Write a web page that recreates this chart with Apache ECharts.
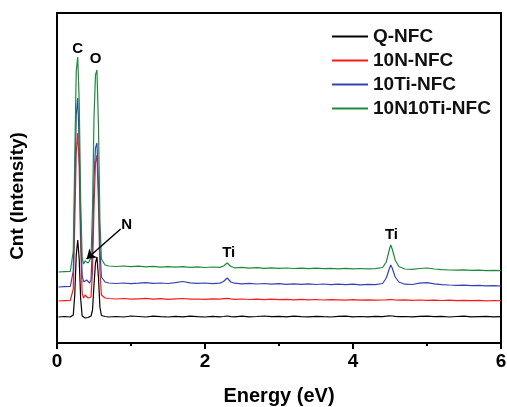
<!DOCTYPE html>
<html>
<head>
<meta charset="utf-8">
<script src="https://cdn.jsdelivr.net/npm/echarts@6/dist/echarts.min.js"></script>
</head>
<body style="margin:0;background:#fff">
<div id="main" style="width:507px;height:407px;"></div>
<script type="text/javascript">
// energy axis (keV), shared by all four spectra
var energy = [0.02,0.10,0.18,
  0.20,0.22,0.24,0.26,0.28,0.30,0.32,0.34,0.36,0.38,0.40,0.42,0.44,0.46,0.48,0.50,0.52,0.54,0.56,0.58,0.60,
  0.65,0.70,
  0.8,0.9,1.0,1.1,1.2,1.3,1.4,1.5,1.6,1.7,1.8,1.9,2.0,2.1,2.2,
  2.25,2.30,2.35,
  2.4,2.5,2.6,2.7,2.8,2.9,3.0,3.1,3.2,3.3,3.4,3.5,3.6,3.7,3.8,3.9,4.0,4.1,4.2,4.3,
  4.40,4.45,4.49,4.51,4.53,4.57,4.62,
  4.7,4.8,4.9,5.0,5.1,5.2,5.3,5.4,5.5,5.6,5.7,5.8,5.9,6.0];

// counts (offset spectra, arbitrary units)
var qNFC = [26,26.5,26,
  26.5,28,48,88,103,84,44,27,25.5,25,25,25.5,26,27,33,58,80,86,66,36,27.5,
  26.5,26,
  26.5,26,27,26.5,26,26.8,26.3,26,26.6,26.2,26.9,26.4,26,26.7,26.2,
  26.5,27,26.4,
  26.2,26.8,26.1,26.5,27,26.3,26.6,26.1,26.9,26.4,26.2,26.7,26.3,26,26.6,26.9,26.2,26.5,26.1,26.7,
  26.4,26.8,27.2,27.5,27,26.6,26.3,
  26.5,26.1,26.7,26.9,26.3,26.6,26,26.5,26.8,26.2,26.4,26.6,26.1,26.3];
var n10NFC = [42,42.3,42.5,
  43,54,120,190,210,175,95,50,45,48,48.5,45,43.5,46,72,135,180,188,140,72,48,
  45,44.5,
  44,44.5,43.8,44.2,44.6,43.9,44.3,43.7,44.1,44.5,43.8,44,43.6,44.2,43.9,
  44.3,44.6,44.1,
  43.7,44,43.5,43.9,43.4,43.8,43.3,43.6,43.2,43.7,43.1,43.5,43,43.4,43.1,42.8,43.3,42.9,43.2,42.8,
  43,43.2,43.4,43.5,43.3,43,42.8,
  43.1,42.7,43,42.6,42.9,42.5,42.8,42.4,42.7,42.3,42.6,42.2,42.5,42.2];
var ti10NFC = [56,56.3,56.5,
  57.5,72,150,228,245,200,115,68,61,62,63,61,60,63,100,165,195,200,160,95,66,
  61,60,
  59.5,60,59.3,59.8,60.4,59.6,60,59.5,60.3,61.5,60.2,59.6,60,59.4,59.9,
  61.5,65,61,
  59.8,59.2,59.6,59,59.5,58.8,59.3,58.7,59.2,58.6,59.1,58.5,59,58.4,58.9,58.3,58.8,58.2,58.6,58.3,
  59.5,65,74,78,75,66,61,
  58.8,58.5,59.8,60.3,59.2,58.4,58,57.7,57.9,57.4,57.6,57.2,57.4,57];
var n10ti10NFC = [71,71.3,71.5,
  72.5,92,185,272,286,242,142,85,79,82,83,80,79,85,135,225,268,273,218,122,84,
  78,77,
  76.5,77,76.3,76.8,76.2,76.6,75.9,76.4,75.8,76.3,75.7,76.1,75.5,76,75.6,
  77,80,76.5,
  75.2,75.6,74.9,75.3,74.7,75.1,74.6,75,74.5,74.9,74.4,74.8,74.3,74.7,74.2,74.6,74.1,74.5,74.1,74.4,
  75.5,81,93,98,94,83,76.5,
  74,73.6,74.5,75,74,73.4,73,72.8,73.1,72.6,72.8,72.4,72.6,72.3];

var names = ['Q-NFC', '10N-NFC', '10Ti-NFC', '10N10Ti-NFC'];
var colors = ['#000000', '#ff1a1a', '#3444b0', '#1f8a3c'];
var spectra = [qNFC, n10NFC, ti10NFC, n10ti10NFC];

// peak labels [energy, count, text]
var peakLabels = [[0.28, 294, 'C'], [0.52, 284, 'O'], [0.94, 118, 'N'], [2.32, 90, 'Ti'], [4.52, 108, 'Ti']];
var arrowFrom = [0.86, 114];
var arrowTo = [0.40, 84];

var font = 'Arial, "Liberation Sans", sans-serif';
var myChart = echarts.init(document.getElementById('main'));

var series = spectra.map(function (vals, i) {
  return {
    name: names[i],
    type: 'line',
    symbol: 'none',
    lineStyle: { width: 1.2, color: colors[i] },
    itemStyle: { color: colors[i] },
    data: vals.map(function (v, k) { return [energy[k], v]; })
  };
});

series[3].markPoint = {
  symbol: 'circle',
  symbolSize: 0,
  silent: true,
  label: { show: true, position: 'inside', color: '#000', fontFamily: font, fontWeight: 'bold', fontSize: 15,
    formatter: function (p) { return p.name; } },
  data: peakLabels.map(function (p) { return { name: p[2], coord: [p[0], p[1]] }; })
};
series[3].markLine = {
  silent: true,
  symbol: ['none', 'arrow'],
  symbolSize: 9,
  label: { show: false },
  lineStyle: { color: '#000', width: 1.5, type: 'solid' },
  data: [[{ coord: arrowFrom }, { coord: arrowTo }]]
};

var option = {
  animation: false,
  grid: { left: 57, right: 6, top: 13, bottom: 64, show: true, borderColor: '#000', borderWidth: 2,
    outerBoundsMode: 'none' },
  legend: {
    orient: 'vertical',
    left: 327,
    top: 22,
    icon: 'rect',
    itemWidth: 36,
    itemHeight: 2,
    itemGap: 5,
    data: names,
    textStyle: { fontFamily: font, fontWeight: 'bold', fontSize: 19, color: '#111' }
  },
  graphic: [{
    type: 'text',
    x: 18,
    y: 196,
    rotation: Math.PI / 2,
    style: { text: 'Cnt (Intensity)', fontFamily: font, fontWeight: 'bold', fontSize: 19, fill: '#000',
      align: 'center', verticalAlign: 'middle' }
  }],
  xAxis: {
    type: 'value',
    min: 0,
    max: 6,
    interval: 2,
    name: 'Energy (eV)',
    nameLocation: 'middle',
    nameGap: 43,
    nameTextStyle: { fontFamily: font, fontWeight: 'bold', fontSize: 20, color: '#000' },
    axisLine: { lineStyle: { color: '#000', width: 2 } },
    axisTick: { show: true, length: 6, lineStyle: { width: 2 } },
    minorTick: { show: true, splitNumber: 2, length: 3, lineStyle: { color: '#000', width: 2 } },
    axisLabel: { fontFamily: font, fontWeight: 'bold', fontSize: 19, color: '#000', margin: 9 },
    splitLine: { show: false }
  },
  yAxis: {
    type: 'value',
    min: 0,
    max: 330,
    axisLine: { show: true, lineStyle: { color: '#000', width: 2 } },
    axisTick: { show: false },
    axisLabel: { show: false },
    splitLine: { show: false }
  },
  series: series
};

myChart.setOption(option);
</script>
</body>
</html>
